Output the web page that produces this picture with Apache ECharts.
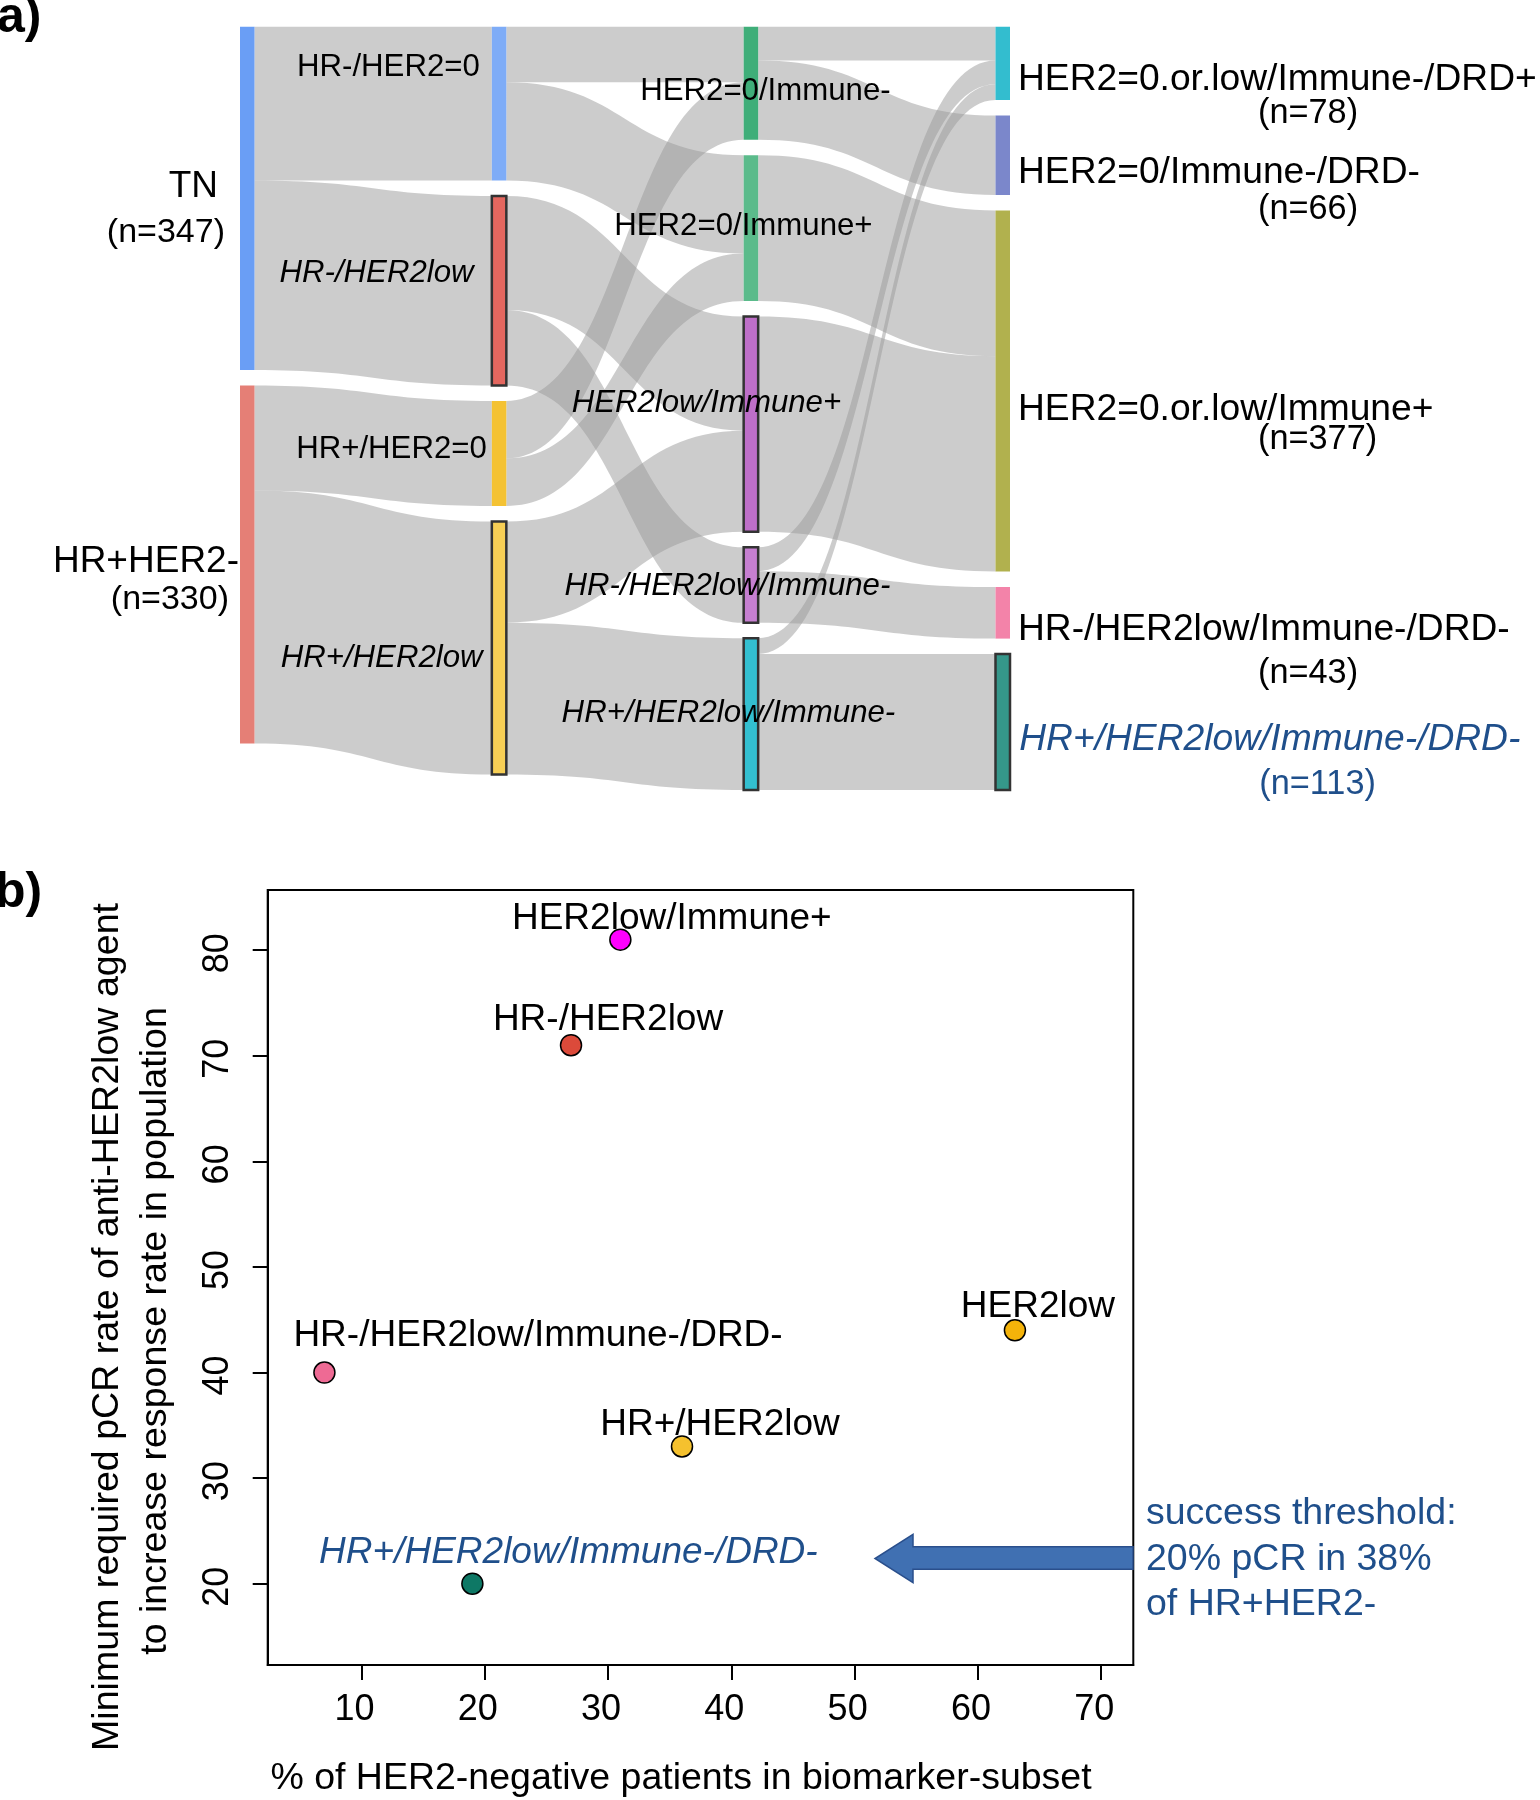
<!DOCTYPE html>
<html>
<head>
<meta charset="utf-8">
<script src="https://cdn.jsdelivr.net/npm/echarts@6/dist/echarts.min.js"></script>
<style>
html,body{margin:0;padding:0;background:#fff;}
#c{width:1540px;height:1800px;}
</style>
</head>
<body>
<div id="c"></div>
<script>
// ---------------- Panel a) data ----------------
const stage1 = ['TN', 'HR+HER2-'];
const stage1N = [347, 330];
const stage2 = ['HR-/HER2=0', 'HR-/HER2low', 'HR+/HER2=0', 'HR+/HER2low'];
const stage3 = ['HER2=0/Immune-', 'HER2=0/Immune+', 'HER2low/Immune+', 'HR-/HER2low/Immune-', 'HR+/HER2low/Immune-'];
const stage4 = ['HER2=0.or.low/Immune-/DRD+', 'HER2=0/Immune-/DRD-', 'HER2=0.or.low/Immune+', 'HR-/HER2low/Immune-/DRD-', 'HR+/HER2low/Immune-/DRD-'];
const stage4N = [78, 66, 377, 43, 113];

const flowSource = [
  'TN', 'TN', 'HR+HER2-', 'HR+HER2-',
  'HR-/HER2=0', 'HR-/HER2=0', 'HR+/HER2=0', 'HR+/HER2=0',
  'HR-/HER2low', 'HR-/HER2low', 'HR+/HER2low', 'HR+/HER2low',
  'HER2=0/Immune-', 'HER2=0/Immune-', 'HER2=0/Immune+', 'HER2low/Immune+',
  'HR-/HER2low/Immune-', 'HR-/HER2low/Immune-', 'HR+/HER2low/Immune-', 'HR+/HER2low/Immune-'
];
const flowTarget = [
  'HR-/HER2=0', 'HR-/HER2low', 'HR+/HER2=0', 'HR+/HER2low',
  'HER2=0/Immune-', 'HER2=0/Immune+', 'HER2=0/Immune-', 'HER2=0/Immune+',
  'HER2low/Immune+', 'HR-/HER2low/Immune-', 'HER2low/Immune+', 'HR+/HER2low/Immune-',
  'HER2=0.or.low/Immune-/DRD+', 'HER2=0/Immune-/DRD-', 'HER2=0.or.low/Immune+', 'HER2=0.or.low/Immune+',
  'HER2=0.or.low/Immune-/DRD+', 'HR-/HER2low/Immune-/DRD-', 'HER2=0.or.low/Immune-/DRD+', 'HR+/HER2low/Immune-/DRD-'
];
const flowValue = [
  155, 191, 106, 255,
  56, 99, 58, 48,
  115, 76, 102, 153,
  34, 80, 147, 217,
  24, 52, 16, 137
];

// ---------------- Panel b) data ----------------
const subsetNames = ['HER2low/Immune+', 'HR-/HER2low', 'HER2low', 'HR-/HER2low/Immune-/DRD-', 'HR+/HER2low', 'HR+/HER2low/Immune-/DRD-'];
const pctPatients = [31, 27, 63, 7, 36, 19];
const minPCR = [81, 71, 44, 40, 33, 20];
const xTicks = [10, 20, 30, 40, 50, 60, 70];
const yTicks = [20, 30, 40, 50, 60, 70, 80];
const noteLines = ['success threshold:', '20% pCR in 38%', 'of HR+HER2-'];

// ---------------- styles ----------------
const FONT = '"Liberation Sans", Arial, Helvetica, sans-serif';
const BLUE = '#1f4f8b';
const nodeColor = {
  'TN': '#6a9ef5', 'HR+HER2-': '#e57f76',
  'HR-/HER2=0': '#7eacf7', 'HR-/HER2low': '#e4675f', 'HR+/HER2=0': '#f4c233', 'HR+/HER2low': '#f7cf55',
  'HER2=0/Immune-': '#3fae79', 'HER2=0/Immune+': '#5bbb8b', 'HER2low/Immune+': '#be6fc8',
  'HR-/HER2low/Immune-': '#c67fd1', 'HR+/HER2low/Immune-': '#33bfd0',
  'HER2=0.or.low/Immune-/DRD+': '#33bdcf', 'HER2=0/Immune-/DRD-': '#7b87cb', 'HER2=0.or.low/Immune+': '#b1b14e',
  'HR-/HER2low/Immune-/DRD-': '#f383a9', 'HR+/HER2low/Immune-/DRD-': '#35978a'
};
const bordered = ['HR-/HER2low', 'HR+/HER2low', 'HER2low/Immune+', 'HR-/HER2low/Immune-', 'HR+/HER2low/Immune-', 'HR+/HER2low/Immune-/DRD-'];

const col1Lab = [
  {dist: 15, dy: 14, nLH: 51.6, namePadR: 7, nPadR: 0},
  {dist: 1, dy: 14.9, nLH: 36, namePadR: 0, nPadR: 10}
];
const col2Lab = [
  {dist: 12, dy: -36.3, it: false},
  {dist: 17, dy: -17.5, it: true},
  {dist: 5, dy: -4.5, it: false},
  {dist: 8, dy: 10.4, it: true}
];
const col3Lab = [
  {off: [14.5, 8.5], it: false},
  {off: [-7.5, -1.5], it: false},
  {off: [-44.5, -20.5], it: true},
  {off: [-23.5, 1.5], it: true},
  {off: [-22.5, -0.5], it: true}
];
const col4Lab = [
  {dy: 31.8, nLH: 30.4}, {dy: 36.5, nLH: 37.6}, {dy: 30.8, nLH: 24.2}, {dy: 42.3, nLH: 51}, {dy: 44.7, nLH: 54.2}
];

function nodeLabel(name) {
  let i = stage1.indexOf(name);
  if (i >= 0) {
    const L = col1Lab[i];
    return {
      show: true, position: 'left', distance: L.dist, offset: [0, L.dy],
      formatter: '{a|' + name + '}\n{n|(n=' + stage1N[i] + ')}',
      rich: {
        a: {fontSize: 37, lineHeight: 40, fontFamily: FONT, color: '#000', padding: [0, L.namePadR, 0, 0]},
        n: {fontSize: 34, lineHeight: L.nLH, fontFamily: FONT, color: '#000', padding: [0, L.nPadR, 0, 0]}
      }
    };
  }
  i = stage2.indexOf(name);
  if (i >= 0) {
    const L = col2Lab[i];
    return {
      show: true, position: 'left', distance: L.dist, offset: [0, L.dy],
      fontSize: 31.2, fontFamily: FONT, color: '#000', fontStyle: L.it ? 'italic' : 'normal'
    };
  }
  i = stage3.indexOf(name);
  if (i >= 0) {
    const L = col3Lab[i];
    return {
      show: true, position: 'inside', offset: L.off, textBorderWidth: 0,
      fontSize: 31.2, fontFamily: FONT, color: '#000', fontStyle: L.it ? 'italic' : 'normal'
    };
  }
  i = stage4.indexOf(name);
  const L = col4Lab[i];
  const teal = name === 'HR+/HER2low/Immune-/DRD-';
  return {
    show: true, position: 'right', distance: 8, offset: [0, L.dy],
    formatter: '{a|' + name + '}\n{n|(n=' + stage4N[i] + ')}',
    rich: {
      a: {fontSize: 37.2, lineHeight: 36, fontFamily: FONT, color: teal ? BLUE : '#000', fontStyle: teal ? 'italic' : 'normal'},
      n: {fontSize: 34.3, lineHeight: L.nLH, fontFamily: FONT, color: teal ? BLUE : '#000', padding: [0, 0, 0, 240]}
    }
  };
}

const allNodes = stage1.concat(stage2, stage3, stage4);
const sankeyNodes = allNodes.map(name => ({
  name: name,
  itemStyle: {
    color: nodeColor[name],
    borderColor: '#333',
    borderWidth: bordered.indexOf(name) >= 0 ? 2.5 : 0
  },
  label: nodeLabel(name)
}));
const sankeyLinks = flowSource.map((s, i) => ({source: s, target: flowTarget[i], value: flowValue[i]}));

const pointColors = ['#ff00ff', '#dc4a3a', '#f4b30a', '#ee6a94', '#f5c12e', '#0e7865'];
const pointLabelOffsets = [[51.5, -21], [37, -25.5], [23, -23], [213.6, -37], [38, -22], [96, -30.5]];

const scatterData = subsetNames.map((n, i) => ({
  name: n,
  value: [pctPatients[i], minPCR[i]],
  itemStyle: {color: pointColors[i]},
  label: {
    offset: pointLabelOffsets[i],
    color: i === 5 ? BLUE : '#000',
    fontStyle: i === 5 ? 'italic' : 'normal'
  }
}));

const chart = echarts.init(document.getElementById('c'), null, {renderer: 'canvas', width: 1540, height: 1800});

const graphics = [
  {type: 'text', x: -3, y: 18.5, style: {text: 'a)', font: 'bold 50px ' + FONT, fill: '#000', verticalAlign: 'middle'}},
  {type: 'text', x: -5, y: 893, style: {text: 'b)', font: 'bold 50px ' + FONT, fill: '#000', verticalAlign: 'middle'}},
  {type: 'text', x: 108, y: 1327, rotation: Math.PI / 2,
   style: {text: 'Minimum required pCR rate of anti-HER2low agent', font: '37.6px ' + FONT, fill: '#000', align: 'center', verticalAlign: 'middle'}},
  {type: 'text', x: 156, y: 1331, rotation: Math.PI / 2,
   style: {text: 'to increase response rate in population', font: '37.6px ' + FONT, fill: '#000', align: 'center', verticalAlign: 'middle'}},
  {type: 'text', x: 681, y: 1779,
   style: {text: '% of HER2-negative patients in biomarker-subset', font: '37.5px ' + FONT, fill: '#000', align: 'center', verticalAlign: 'middle'}},
  {type: 'polygon', shape: {points: [[1133, 1546.7], [913, 1546.7], [913, 1534.3], [875, 1558.5], [913, 1582.7], [913, 1569.3], [1133, 1569.3]]},
   style: {fill: '#4070b2', stroke: '#2a4f8c', lineWidth: 1.5}}
];
noteLines.forEach((t, i) => {
  graphics.push({type: 'text', x: 1146, y: [1513.5, 1559.5, 1604.5][i],
    style: {text: t, font: '37.5px ' + FONT, fill: BLUE, align: 'left', verticalAlign: 'middle'}});
});

chart.setOption({
  animation: false,
  backgroundColor: '#fff',
  textStyle: {fontFamily: FONT},
  grid: {left: 267.7, top: 890, width: 865.6, height: 775, show: true, borderColor: '#000', borderWidth: 2, backgroundColor: 'transparent'},
  xAxis: {
    type: 'value', min: 2.4, max: 72.6,
    splitLine: {show: false},
    axisLine: {show: true, onZero: false, lineStyle: {color: '#000', width: 2}},
    axisTick: {show: true, customValues: xTicks, length: 15, lineStyle: {color: '#000', width: 2}},
    axisLabel: {customValues: xTicks, fontSize: 36, color: '#000', fontFamily: FONT, margin: 27, padding: [0, 14, 0, 0]}
  },
  yAxis: {
    type: 'value', min: 12.3, max: 85.7,
    splitLine: {show: false},
    axisLine: {show: true, onZero: false, lineStyle: {color: '#000', width: 2}},
    axisTick: {show: true, customValues: yTicks, length: 15, lineStyle: {color: '#000', width: 2}},
    axisLabel: {customValues: yTicks, rotate: 90, fontSize: 36, color: '#000', fontFamily: FONT, margin: 32, padding: [0, 6, 0, 0]}
  },
  graphic: graphics,
  series: [
    {
      type: 'sankey',
      left: 240, top: 26.7, right: 530, bottom: 1010,
      nodeWidth: 14.5, nodeGap: 15.5,
      layoutIterations: 0,
      nodeAlign: 'justify',
      draggable: false,
      emphasis: {disabled: true},
      itemStyle: {borderWidth: 0},
      lineStyle: {color: '#999', opacity: 0.5, curveness: 0.5},
      label: {fontFamily: FONT, color: '#000'},
      data: sankeyNodes,
      links: sankeyLinks
    },
    {
      type: 'scatter',
      symbol: 'circle', symbolSize: 21,
      itemStyle: {borderColor: '#000', borderWidth: 1.5, opacity: 1},
      label: {show: true, position: 'inside', formatter: '{b}', fontSize: 37, fontFamily: FONT, color: '#000', textBorderWidth: 0},
      emphasis: {disabled: true},
      data: scatterData,
      z: 5
    }
  ]
});
</script>
</body>
</html>
